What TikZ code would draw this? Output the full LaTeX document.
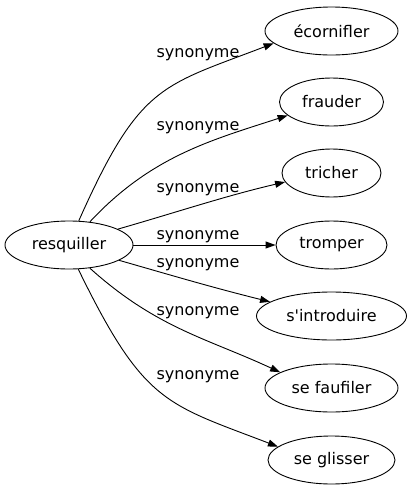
\documentclass[tikz,border=0pt]{standalone}
\usepackage{fontspec}
\setmainfont{DejaVu Sans}
\usetikzlibrary{shapes.geometric,arrows.meta}

\begin{document}
\begin{tikzpicture}
[x=1pt, y=1pt, font=\fontsize{16}{19}\selectfont,
 word/.style={draw, ellipse, inner sep=0pt, minimum height=48pt, line width=0.9pt},
 lbl/.style={anchor=base, inner sep=0pt},
 syn/.style={line width=0.9pt, -{Triangle[length=10pt,width=7pt]}}]
\useasboundingbox (0,0) rectangle (412,-491);

\node [word, minimum width=128pt] (r) at (69,-245) {resquiller};

\node [word, minimum width=133pt] (e1) at (331.5,-31) {écornifler};
\node [word, minimum width=104pt] (e2) at (331.5,-102) {frauder};
\node [word, minimum width=99pt] (e3) at (331.5,-173) {tricher};
\node [word, minimum width=111pt] (e4) at (331.5,-245) {tromper};
\node [word, minimum width=150pt] (e5) at (331.5,-316) {s\textquotesingle introduire};
\node [word, minimum width=133pt] (e6) at (331.5,-388) {se faufiler};
\node [word, minimum width=127pt] (e7) at (331.5,-460) {se glisser};

\draw [syn] (r.68) .. controls +(66:150) and +(201:120) .. (e1.192);
\node [lbl] (l1) at (198,-57) {synonyme};

\draw [syn] (r.48) .. controls +(47:90) and +(198:80) .. (e2.197);
\node [lbl] (l2) at (198,-130) {synonyme};

\draw [syn] (r.18) .. controls +(16:60) and +(193:60) .. (e3.191);
\node [lbl] (l3) at (198,-192) {synonyme};

\draw [syn] (r.east) -- (e4.west);
\node [lbl] (l4) at (198,-239) {synonyme};

\draw [syn] (r.343) .. controls +(-16:60) and +(166:60) .. (e5.167);
\node [lbl] (l5) at (198,-267) {synonyme};

\draw [syn] (r.312) .. controls +(-42:90) and +(155:80) .. (e6.163);
\node [lbl] (l6) at (198,-315) {synonyme};

\draw [syn] (r.291) .. controls +(-64:150) and +(159:120) .. (e7.166);
\node [lbl] (l7) at (198,-379) {synonyme};
\end{tikzpicture}
\end{document}
